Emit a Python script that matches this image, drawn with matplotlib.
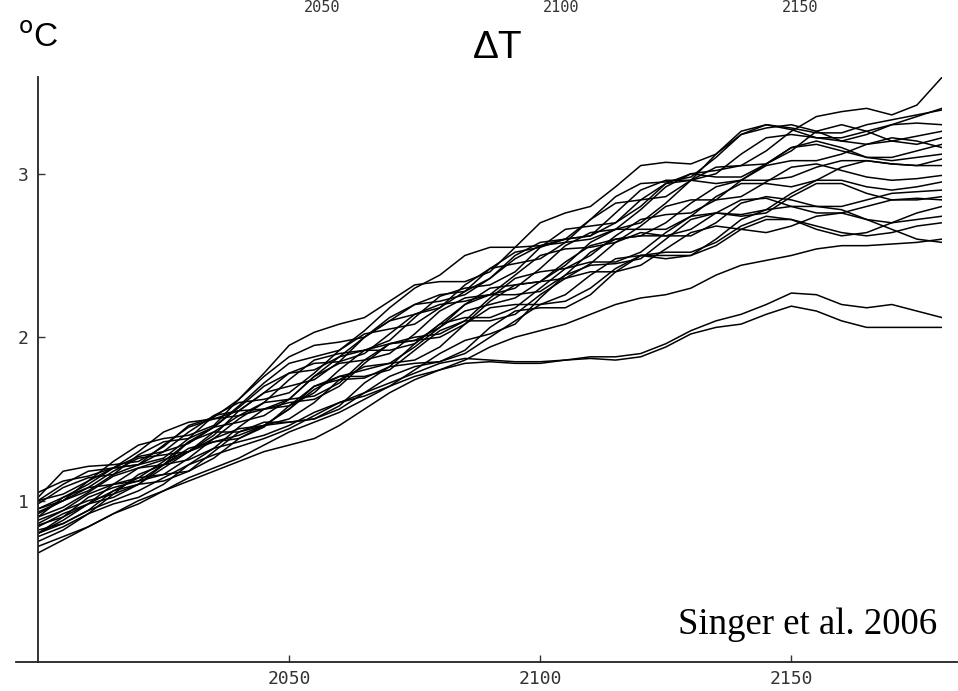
import matplotlib
matplotlib.use("Agg")
import matplotlib.pyplot as plt

# values every 5 years, 2000..2180
years = list(range(2000, 2181, 5))

runs = [
    [0.95, 1.02, 1.10, 1.20, 1.27, 1.30, 1.35, 1.45, 1.57, 1.70, 1.78, 1.80, 1.88, 2.00, 2.12, 2.20, 2.22, 2.26, 2.36, 2.48,
     2.56, 2.58, 2.60, 2.66, 2.78, 2.92, 3.00, 3.02, 3.05, 3.14, 3.26, 3.35, 3.38, 3.40, 3.36, 3.42, 3.59],
    [1.02, 1.18, 1.21, 1.22, 1.24, 1.33, 1.46, 1.51, 1.62, 1.78, 1.95, 2.03, 2.08, 2.12, 2.22, 2.32, 2.34, 2.34, 2.40, 2.55,
     2.70, 2.76, 2.80, 2.92, 3.05, 3.07, 3.06, 3.12, 3.26, 3.30, 3.27, 3.22, 3.20, 3.24, 3.30, 3.35, 3.40],
    [0.85, 0.90, 0.98, 1.10, 1.20, 1.25, 1.30, 1.40, 1.55, 1.66, 1.70, 1.74, 1.85, 2.00, 2.10, 2.14, 2.18, 2.28, 2.42, 2.52,
     2.55, 2.60, 2.72, 2.86, 2.94, 2.95, 2.98, 3.10, 3.24, 3.30, 3.28, 3.25, 3.25, 3.30, 3.33, 3.36, 3.39],
    [0.92, 1.00, 1.12, 1.20, 1.22, 1.26, 1.38, 1.52, 1.60, 1.62, 1.66, 1.78, 1.92, 2.02, 2.05, 2.08, 2.18, 2.32, 2.42, 2.45,
     2.48, 2.58, 2.72, 2.82, 2.84, 2.86, 2.96, 3.12, 3.24, 3.28, 3.30, 3.26, 3.20, 3.18, 3.20, 3.23, 3.26],
    [0.80, 0.90, 1.02, 1.08, 1.12, 1.22, 1.36, 1.45, 1.48, 1.52, 1.62, 1.76, 1.84, 1.86, 1.90, 2.02, 2.16, 2.24, 2.26, 2.30,
     2.42, 2.56, 2.64, 2.66, 2.70, 2.82, 2.96, 3.04, 3.05, 3.06, 3.14, 3.26, 3.30, 3.26, 3.20, 3.18, 3.22],
    [0.98, 1.08, 1.14, 1.16, 1.22, 1.34, 1.45, 1.50, 1.52, 1.60, 1.74, 1.86, 1.90, 1.92, 1.98, 2.12, 2.25, 2.30, 2.32, 2.40,
     2.55, 2.66, 2.68, 2.70, 2.80, 2.94, 3.00, 2.98, 2.98, 3.06, 3.16, 3.18, 3.14, 3.10, 3.10, 3.14, 3.18],
    [0.78, 0.84, 0.92, 1.04, 1.16, 1.22, 1.25, 1.32, 1.45, 1.56, 1.60, 1.62, 1.70, 1.84, 1.96, 2.00, 2.02, 2.10, 2.24, 2.36,
     2.40, 2.42, 2.50, 2.62, 2.72, 2.75, 2.76, 2.84, 2.96, 3.05, 3.08, 3.08, 3.12, 3.18, 3.22, 3.20, 3.16],
    [0.90, 0.96, 1.05, 1.15, 1.20, 1.22, 1.30, 1.42, 1.52, 1.56, 1.58, 1.66, 1.80, 1.92, 1.96, 1.98, 2.06, 2.20, 2.30, 2.32,
     2.34, 2.44, 2.58, 2.66, 2.66, 2.66, 2.74, 2.86, 2.94, 2.94, 2.92, 2.96, 3.04, 3.08, 3.06, 3.05, 3.09],
    [1.05, 1.12, 1.15, 1.20, 1.30, 1.42, 1.48, 1.50, 1.55, 1.66, 1.78, 1.84, 1.85, 1.90, 2.02, 2.14, 2.20, 2.22, 2.26, 2.38,
     2.50, 2.54, 2.55, 2.58, 2.68, 2.80, 2.84, 2.84, 2.86, 2.95, 3.04, 3.06, 3.02, 2.98, 2.96, 2.97, 2.99],
    [0.75, 0.82, 0.92, 0.98, 1.02, 1.10, 1.22, 1.32, 1.36, 1.40, 1.46, 1.54, 1.60, 1.64, 1.70, 1.80, 1.90, 1.98, 2.02, 2.08,
     2.24, 2.38, 2.44, 2.45, 2.48, 2.60, 2.72, 2.76, 2.75, 2.78, 2.88, 2.96, 2.96, 2.92, 2.90, 2.92, 2.95],
    [0.95, 1.00, 1.08, 1.18, 1.26, 1.28, 1.30, 1.38, 1.50, 1.60, 1.62, 1.64, 1.72, 1.86, 1.96, 1.98, 2.00, 2.08, 2.22, 2.32,
     2.34, 2.36, 2.45, 2.58, 2.64, 2.62, 2.62, 2.70, 2.82, 2.86, 2.84, 2.80, 2.80, 2.84, 2.88, 2.89, 2.90],
    [0.84, 0.92, 0.98, 1.02, 1.10, 1.22, 1.32, 1.36, 1.38, 1.45, 1.58, 1.70, 1.74, 1.75, 1.82, 1.96, 2.08, 2.12, 2.12, 2.18,
     2.30, 2.42, 2.46, 2.46, 2.52, 2.64, 2.74, 2.76, 2.74, 2.76, 2.86, 2.94, 2.94, 2.88, 2.84, 2.84, 2.86],
    [1.00, 1.10, 1.18, 1.20, 1.22, 1.30, 1.42, 1.52, 1.55, 1.56, 1.62, 1.76, 1.88, 1.92, 1.92, 1.96, 2.08, 2.20, 2.26, 2.26,
     2.28, 2.38, 2.52, 2.60, 2.62, 2.62, 2.66, 2.76, 2.84, 2.85, 2.80, 2.76, 2.76, 2.80, 2.84, 2.85, 2.84],
    [0.82, 0.86, 0.94, 1.06, 1.14, 1.16, 1.18, 1.26, 1.38, 1.46, 1.48, 1.50, 1.58, 1.72, 1.82, 1.84, 1.85, 1.92, 2.06, 2.16,
     2.18, 2.18, 2.26, 2.40, 2.50, 2.52, 2.52, 2.58, 2.68, 2.74, 2.72, 2.66, 2.62, 2.64, 2.70, 2.76, 2.80],
    [0.90, 1.02, 1.08, 1.10, 1.14, 1.24, 1.36, 1.42, 1.42, 1.46, 1.56, 1.70, 1.76, 1.76, 1.80, 1.92, 2.04, 2.10, 2.10, 2.14,
     2.26, 2.36, 2.40, 2.40, 2.44, 2.54, 2.64, 2.68, 2.66, 2.64, 2.68, 2.74, 2.76, 2.72, 2.70, 2.72, 2.74],
    [0.86, 0.94, 1.04, 1.10, 1.12, 1.16, 1.26, 1.38, 1.44, 1.46, 1.50, 1.60, 1.74, 1.82, 1.84, 1.86, 1.94, 2.08, 2.18, 2.20,
     2.20, 2.26, 2.38, 2.48, 2.50, 2.48, 2.50, 2.60, 2.72, 2.78, 2.80, 2.80, 2.78, 2.72, 2.66, 2.60, 2.58],
    [0.68, 0.76, 0.84, 0.92, 0.98, 1.06, 1.14, 1.20, 1.26, 1.34, 1.42, 1.48, 1.54, 1.62, 1.70, 1.76, 1.80, 1.86, 1.94, 2.00,
     2.04, 2.08, 2.14, 2.20, 2.24, 2.26, 2.30, 2.38, 2.44, 2.47, 2.50, 2.54, 2.56, 2.56, 2.57, 2.58, 2.60],
    [0.93, 1.00, 1.06, 1.16, 1.28, 1.36, 1.38, 1.45, 1.58, 1.72, 1.84, 1.88, 1.92, 2.04, 2.18, 2.30, 2.38, 2.50, 2.55, 2.55,
     2.56, 2.60, 2.62, 2.76, 2.90, 2.96, 2.96, 3.00, 3.12, 3.22, 3.24, 3.22, 3.22, 3.26, 3.30, 3.31, 3.30],
    [0.88, 0.94, 1.00, 1.04, 1.10, 1.20, 1.30, 1.36, 1.40, 1.46, 1.56, 1.68, 1.76, 1.80, 1.84, 1.94, 2.06, 2.16, 2.20, 2.24,
     2.34, 2.46, 2.56, 2.60, 2.62, 2.70, 2.82, 2.92, 2.96, 2.96, 2.98, 3.04, 3.08, 3.08, 3.06, 3.05, 3.05],
    [1.00, 1.04, 1.12, 1.24, 1.34, 1.38, 1.40, 1.46, 1.62, 1.76, 1.88, 1.95, 1.97, 2.00, 2.10, 2.20, 2.26, 2.28, 2.36, 2.50,
     2.58, 2.60, 2.62, 2.70, 2.84, 2.94, 2.96, 2.94, 2.96, 3.06, 3.16, 3.20, 3.16, 3.10, 3.08, 3.10, 3.12],
    [0.80, 0.88, 0.98, 1.06, 1.10, 1.12, 1.18, 1.30, 1.42, 1.48, 1.48, 1.50, 1.56, 1.66, 1.76, 1.82, 1.85, 1.90, 2.00, 2.10,
     2.20, 2.22, 2.30, 2.42, 2.50, 2.50, 2.50, 2.56, 2.66, 2.72, 2.72, 2.68, 2.64, 2.62, 2.64, 2.68, 2.70],
    # the two low runs
    [0.80, 0.86, 0.94, 1.00, 1.06, 1.14, 1.22, 1.28, 1.33, 1.38, 1.44, 1.52, 1.60, 1.66, 1.72, 1.78, 1.84, 1.87, 1.86, 1.85,
     1.85, 1.86, 1.88, 1.88, 1.90, 1.96, 2.04, 2.10, 2.14, 2.20, 2.27, 2.26, 2.20, 2.18, 2.20, 2.16, 2.12],
    [0.72, 0.78, 0.84, 0.92, 1.00, 1.06, 1.12, 1.18, 1.24, 1.30, 1.34, 1.38, 1.46, 1.56, 1.66, 1.74, 1.80, 1.84, 1.85, 1.84,
     1.84, 1.86, 1.87, 1.86, 1.88, 1.94, 2.02, 2.06, 2.08, 2.14, 2.19, 2.16, 2.10, 2.06, 2.06, 2.06, 2.06],
]

xticks = [2050, 2100, 2150]
yticks = [1, 2, 3]

fig = plt.figure(figsize=(9.58, 6.91), dpi=100)
ax = fig.add_axes([0.0397, 0.042, 0.9436, 0.8466])

for r in runs:
    ax.plot(years, r, color='black', lw=1.1)

ax.set_xlim(2000, 2180)
ax.set_ylim(0.013, 3.592)

ax.spines['top'].set_visible(False)
ax.spines['right'].set_visible(False)
ax.spines['bottom'].set_visible(False)
ax.spines['left'].set_color('#222222')
ax.spines['left'].set_linewidth(1.3)
ax.axhline(0.013, xmin=-0.024, xmax=1.017, color='#222222', lw=1.3, clip_on=False)

ax.set_xticks(xticks)
ax.set_yticks(yticks)
ax.set_xticklabels([str(t) for t in xticks], family='DejaVu Sans Mono')
ax.set_yticklabels([str(t) for t in yticks], family='DejaVu Sans Mono')
ax.tick_params(direction='in', length=5, width=1, colors='#333333', labelsize=13)
ax.tick_params(axis='x', pad=6)
ax.tick_params(axis='y', pad=7)

fig.text(0.019, 0.932, '$^{\\rm o}$C', fontsize=24, family='Liberation Sans', va='baseline')
fig.text(0.519, 0.916, '\u0394T', fontsize=28, family='Liberation Sans', ha='center', va='baseline')

# leftover labels from the panel above, at the very top edge
for t, xc in zip(xticks, [322, 561, 800]):
    fig.text(xc / 958, 1.0, str(t), fontsize=11, family='DejaVu Sans Mono',
             color='#333333', ha='center', va='top')

ax.text(0.9945, 0.048, 'Singer et al. 2006', transform=ax.transAxes, fontsize=26.5,
        family='Liberation Serif', ha='right', va='baseline')

fig.savefig('out.png', dpi=100)
